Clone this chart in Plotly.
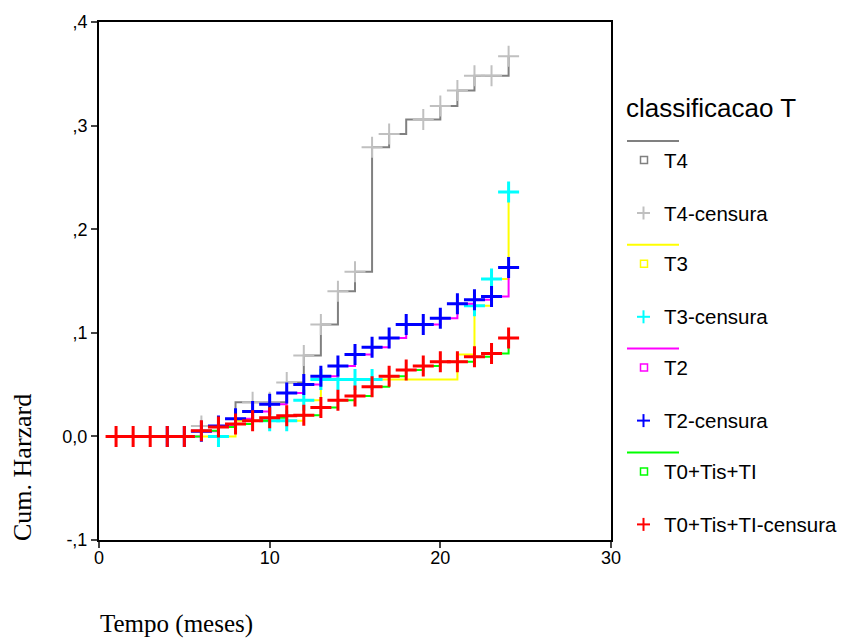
import plotly.graph_objects as go

# Cumulative hazard by T classification (months of follow-up)
groups = ["T4", "T3", "T2", "T0+Tis+TI"]
line_colors = ["#808080", "#ffff00", "#ff00ff", "#00ff00"]
mark_colors = ["#c0c0c0", "#00ffff", "#0000ff", "#ff0000"]
censor_suffix = "-censura"
legend_title = "classificacao T"

# Step-function change points (time, cumulative hazard)
t4_step_t = [6, 8, 11, 12, 13, 14, 15, 16, 17, 18, 20, 21, 22, 24]
t4_step_h = [0.010, 0.033, 0.052, 0.078, 0.108, 0.140, 0.159, 0.279, 0.292, 0.306, 0.319, 0.334, 0.348, 0.367]
t3_step_t = [6, 8, 12, 13, 21, 22, 23, 24]
t3_step_h = [0.0, 0.015, 0.035, 0.055, 0.079, 0.126, 0.152, 0.236]
t2_step_t = [4, 6, 7, 8, 9, 10, 11, 12, 13, 14, 15, 16, 17, 18, 20, 21, 22, 23, 24]
t2_step_h = [0.0, 0.005, 0.010, 0.017, 0.024, 0.031, 0.042, 0.050, 0.058, 0.068, 0.079, 0.086,
             0.095, 0.108, 0.114, 0.128, 0.132, 0.135, 0.163]
t0_step_t = [1, 6, 7, 8, 9, 10, 11, 12, 13, 14, 15, 16, 17, 18, 19, 20, 22, 23, 24]
t0_step_h = [0.0, 0.0055, 0.009, 0.012, 0.015, 0.018, 0.020, 0.0205, 0.028, 0.035, 0.039, 0.048,
             0.058, 0.064, 0.068, 0.072, 0.077, 0.080, 0.095]

# Censored observations (time, cumulative hazard)
t4_cens_t = [6, 9, 10, 11, 12, 13, 14, 15, 16, 17, 19, 20, 21, 22, 23, 24]
t4_cens_h = [0.010, 0.033, 0.033, 0.052, 0.078, 0.108, 0.140, 0.159, 0.279, 0.292, 0.306, 0.319,
             0.334, 0.348, 0.348, 0.367]
t3_cens_t = [7, 10, 11, 12, 13, 14, 15, 16, 22, 23, 24]
t3_cens_h = [0.0, 0.015, 0.015, 0.035, 0.055, 0.055, 0.055, 0.055, 0.126, 0.152, 0.236]
t2_cens_t = list(range(4, 25))
t2_cens_h = [0.0, 0.0, 0.005, 0.010, 0.017, 0.024, 0.031, 0.042, 0.050, 0.058, 0.068, 0.079,
             0.086, 0.095, 0.108, 0.108, 0.114, 0.128, 0.132, 0.135, 0.163]
t0_cens_t = list(range(1, 25))
t0_cens_h = [0.0, 0.0, 0.0, 0.0, 0.0, 0.0055, 0.009, 0.012, 0.015, 0.018, 0.020, 0.0205, 0.028,
             0.035, 0.039, 0.048, 0.058, 0.064, 0.068, 0.072, 0.072, 0.077, 0.080, 0.095]

x_ticks = [0, 10, 20, 30]
y_ticks = [-0.1, 0.0, 0.1, 0.2, 0.3, 0.4]
y_tick_text = ["-,1", "0,0", ",1", ",2", ",3", ",4"]

steps = [(t4_step_t, t4_step_h), (t3_step_t, t3_step_h), (t2_step_t, t2_step_h), (t0_step_t, t0_step_h)]
cens = [(t4_cens_t, t4_cens_h), (t3_cens_t, t3_cens_h), (t2_cens_t, t2_cens_h), (t0_cens_t, t0_cens_h)]

W, H = 843, 641
ML, MR, MT, MB = 99, 232, 22, 101
PW, PH = W - ML - MR, H - MT - MB

SANS = "Liberation Sans, Arial, sans-serif"
SERIF = "Liberation Serif, Times New Roman, serif"

fig = go.Figure()
for i, name in enumerate(groups):
    st, sh = steps[i]
    fig.add_trace(go.Scatter(x=st, y=sh, mode="lines", line=dict(color=line_colors[i], width=2, shape="hv"),
                             name=name, showlegend=False, hoverinfo="skip"))
    ct, ch = cens[i]
    fig.add_trace(go.Scatter(x=ct, y=ch, mode="markers", name=name + censor_suffix, showlegend=False,
                             marker=dict(symbol="cross-thin", size=15,
                                         line=dict(color=mark_colors[i], width=2 if i == 0 else 3))))


def px(x):
    return (x - ML) / PW


def py(y):
    return (H - MB - y) / PH


shapes = []
annotations = []

annotations.append(dict(x=px(624), y=py(108), xref="paper", yref="paper", text=legend_title,
                        showarrow=False, xanchor="left", yanchor="middle",
                        font=dict(family=SANS, size=26, color="#000")))

for i, name in enumerate(groups):
    y_line = 141 + 103.8 * i
    y_sq = y_line + 19
    y_cs = y_line + 72
    shapes.append(dict(type="line", xref="paper", yref="paper", x0=px(627), x1=px(679),
                       y0=py(y_line), y1=py(y_line), line=dict(color=line_colors[i], width=2)))
    shapes.append(dict(type="rect", xref="paper", yref="paper", x0=px(640.5), x1=px(647.5),
                       y0=py(y_sq - 3.5), y1=py(y_sq + 3.5), line=dict(color=line_colors[i], width=1.5)))
    shapes.append(dict(type="line", xref="paper", yref="paper", x0=px(637), x1=px(650),
                       y0=py(y_cs), y1=py(y_cs), line=dict(color=mark_colors[i], width=2)))
    shapes.append(dict(type="line", xref="paper", yref="paper", x0=px(643.5), x1=px(643.5),
                       y0=py(y_cs - 6.5), y1=py(y_cs + 6.5), line=dict(color=mark_colors[i], width=2)))
    annotations.append(dict(x=px(662), y=py(y_sq), xref="paper", yref="paper", text=name,
                            showarrow=False, xanchor="left", yanchor="middle",
                            font=dict(family=SANS, size=20.5, color="#000")))
    annotations.append(dict(x=px(662), y=py(y_cs), xref="paper", yref="paper", text=name + censor_suffix,
                            showarrow=False, xanchor="left", yanchor="middle",
                            font=dict(family=SANS, size=20.5, color="#000")))

annotations.append(dict(x=px(99), y=py(624), xref="paper", yref="paper", text="Tempo (meses)",
                        showarrow=False, xanchor="left", yanchor="middle", borderpad=0,
                        font=dict(family=SERIF, size=25, color="#000")))
annotations.append(dict(x=px(22), y=py(468), xref="paper", yref="paper", text="Cum. Harzard",
                        showarrow=False, xanchor="center", yanchor="middle", textangle=-90,
                        font=dict(family=SERIF, size=26, color="#000")))

fig.update_layout(
    width=W, height=H, autosize=False,
    margin=dict(l=ML, r=MR, t=MT, b=MB, pad=0),
    paper_bgcolor="white", plot_bgcolor="white",
    shapes=shapes, annotations=annotations,
    showlegend=False,
    xaxis=dict(range=[0, 30], tickvals=x_ticks, ticks="outside", ticklen=6, tickwidth=2,
               ticklabelstandoff=-6,
               showline=True, linewidth=2, linecolor="black", mirror=True,
               showgrid=False, zeroline=False, tickfont=dict(family=SANS, size=18, color="#000")),
    yaxis=dict(range=[-0.1, 0.4], tickvals=y_ticks, ticktext=y_tick_text, ticks="outside",
               ticklen=6, tickwidth=2, showline=True, linewidth=2, linecolor="black", mirror=True,
               showgrid=False, zeroline=False, tickfont=dict(family=SANS, size=18, color="#000")),
)

fig.write_html("out.html")
